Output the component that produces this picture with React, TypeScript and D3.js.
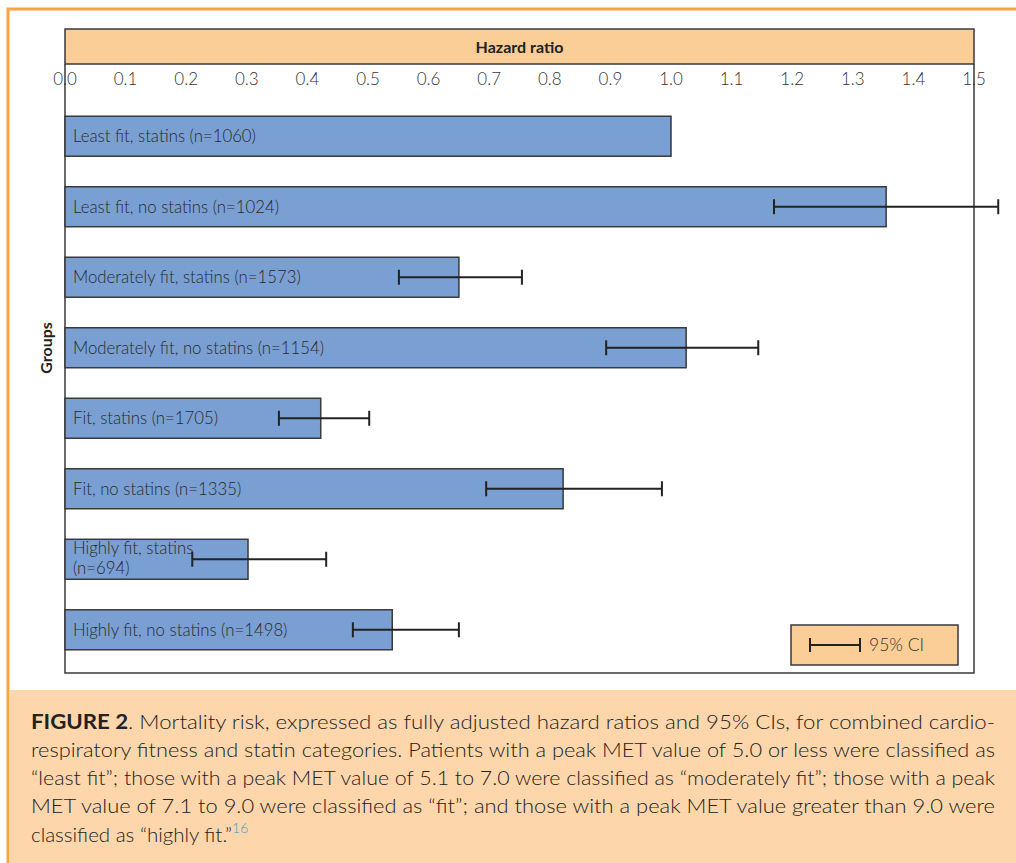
import React from "react";
import * as d3 from "d3";

const groups = [
  "Least fit, statins (n=1060)",
  "Least fit, no statins (n=1024)",
  "Moderately fit, statins (n=1573)",
  "Moderately fit, no statins (n=1154)",
  "Fit, statins (n=1705)",
  "Fit, no statins (n=1335)",
  "Highly fit, statins|(n=694)",
  "Highly fit, no statins (n=1498)",
];
const hazard = [1.0, 1.355, 0.65, 1.025, 0.422, 0.822, 0.302, 0.54];
const ciLow: (number | null)[] = [null, 1.17, 0.551, 0.893, 0.353, 0.695, 0.21, 0.475];
const ciHigh: (number | null)[] = [null, 1.54, 0.754, 1.144, 0.502, 0.985, 0.431, 0.65];
const ticks = [0, 0.1, 0.2, 0.3, 0.4, 0.5, 0.6, 0.7, 0.8, 0.9, 1.0, 1.1, 1.2, 1.3, 1.4, 1.5];

const captionLines = [
  "Mortality risk, expressed as fully adjusted hazard ratios and 95% CIs, for combined cardio-",
  "respiratory fitness and statin categories. Patients with a peak MET value of 5.0 or less were classified as",
  "“least fit”; those with a peak MET value of 5.1 to 7.0 were classified as “moderately fit”; those with a peak",
  "MET value of 7.1 to 9.0 were classified as “fit”; and those with a peak MET value greater than 9.0 were",
  "classified as “highly fit.”",
];

const FONT = "Lato, 'Open Sans', sans-serif";

export default function App() {
  const W = 1016, H = 863;
  const left = 65, right = 974, top = 29, headerBottom = 64, bottom = 673;
  const x = d3.scaleLinear().domain([0, 1.5]).range([left, right]);
  const y = d3.scaleBand<number>().domain(d3.range(groups.length)).range([101, 665]).paddingInner(0.433).paddingOuter(0.216);
  const bh = y.bandwidth();
  const frame = "#3a3a3a";
  const bar = "#7a9fd3";
  const peach = "#fbcd97";
  const capPeach = "#fdd7ab";
  const orange = "#f9a43f";
  const baselines = [729, 757, 785, 813, 842];

  return (
    <svg width={W} height={H} style={{ position: "absolute", left: 0, top: 0 }} fontFamily={FONT}>
      <rect x={0} y={0} width={W} height={H} fill="#fff" />
      {/* orange frame */}
      <rect x={8} y={9} width={1010} height={860} fill="none" stroke={orange} strokeWidth={3} />
      {/* caption band */}
      <rect x={10} y={690} width={W - 10} height={H - 690} fill={capPeach} />
      {/* header band */}
      <rect x={left} y={top} width={right - left} height={headerBottom - top} fill={peach} stroke={frame} strokeWidth={1.5} />
      <text x={(left + right) / 2} y={53} textAnchor="middle" fontSize={16} fontWeight={700} fill="#222">Hazard ratio</text>
      {/* frame */}
      <path d={`M${left},${headerBottom} V${bottom} H${right} V${headerBottom}`} fill="none" stroke={frame} strokeWidth={1.5} />
      {/* ticks */}
      {ticks.map((t) => (
        <text key={t} x={x(t)} y={85} textAnchor="middle" fontSize={17} fontWeight={300} fill="#333">
          {t.toFixed(1)}
        </text>
      ))}
      {/* Groups label */}
      <text transform={`translate(52,348) rotate(-90)`} textAnchor="middle" fontSize={16} fontWeight={700} fill="#222">Groups</text>
      {/* bars */}
      {groups.map((g, i) => {
        const y0 = y(i)!;
        const cy = y0 + bh / 2;
        const lines = g.split("|");
        return (
          <g key={g}>
            <rect x={x(0)} y={y0} width={x(hazard[i]) - x(0)} height={bh} fill={bar} stroke={frame} strokeWidth={1.5} />
            {lines.length === 1 ? (
              <text x={73} y={cy + 6} fontSize={16.8} fontWeight={300} fill="#2a2a2a">{lines[0]}</text>
            ) : (
              <text fontSize={16.8} fontWeight={300} fill="#2a2a2a">
                <tspan x={73} y={cy - 5}>{lines[0]}</tspan>
                <tspan x={73} y={cy + 15}>{lines[1]}</tspan>
              </text>
            )}
            {ciLow[i] !== null && (
              <g stroke="#222" strokeWidth={2}>
                <line x1={x(ciLow[i]!)} x2={x(ciHigh[i]!)} y1={cy} y2={cy} />
                <line x1={x(ciLow[i]!)} x2={x(ciLow[i]!)} y1={cy - 7.5} y2={cy + 7.5} />
                <line x1={x(ciHigh[i]!)} x2={x(ciHigh[i]!)} y1={cy - 7.5} y2={cy + 7.5} />
              </g>
            )}
          </g>
        );
      })}
      {/* legend */}
      <rect x={791} y={625} width={167} height={40} fill={peach} stroke={frame} strokeWidth={1.5} />
      <g stroke="#222" strokeWidth={2}>
        <line x1={810} x2={860} y1={645} y2={645} />
        <line x1={810} x2={810} y1={638} y2={652} />
        <line x1={860} x2={860} y1={638} y2={652} />
      </g>
      <text x={869} y={651} fontSize={17.5} fontWeight={300} fill="#333">95% CI</text>
      {/* caption */}
      {captionLines.map((line, i) => {
        const justify = i < 4;
        return (
          <text
            key={i}
            x={31}
            y={baselines[i]}
            fontSize={20.5}
            fontWeight={300}
            fill="#222"
            {...(justify ? { textLength: 964, lengthAdjust: "spacingAndGlyphs" } : {})}
          >
            {i === 0 && <tspan fontWeight={700}>FIGURE 2</tspan>}
            {i === 0 && <tspan>. </tspan>}
            {line}
            {i === 4 && (
              <tspan dy={-9} fontSize={14} fill="#3f9bc9">16</tspan>
            )}
          </text>
        );
      })}
    </svg>
  );
}
